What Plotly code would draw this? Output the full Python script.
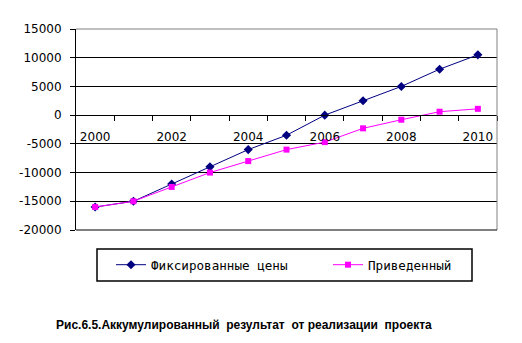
import plotly.graph_objects as go

years = [2000, 2001, 2002, 2003, 2004, 2005, 2006, 2007, 2008, 2009, 2010]
fixed_prices = [-16000, -15000, -12000, -9000, -6000, -3500, 0, 2500, 5000, 8000, 10500]
discounted = [-16000, -15000, -12500, -10000, -8000, -6000, -4700, -2300, -800, 600, 1100]
series_names = ["Фиксированные цены", "Приведенный"]
x_tick_labels = [2000, 2002, 2004, 2006, 2008, 2010]
y_ticks = [-20000, -15000, -10000, -5000, 0, 5000, 10000, 15000]
caption = "Рис.6.5.Аккумулированный  результат  от реализации  проекта"

W, H = 522, 343
L, R, T, B = 76, 25, 29, 113
pw, ph = W - L - R, H - T - B

def px_x(p):
    return (p - L) / pw

def px_y(p):
    return (H - B - p) / ph

legend_font = dict(family="DejaVu Sans Mono", size=12.6, color="#000000")

fig = go.Figure()
fig.add_trace(go.Scatter(
    x=years, y=fixed_prices, name=series_names[0], mode="lines+markers",
    line=dict(color="#000080", width=1),
    marker=dict(symbol="diamond", size=7, color="#000080"),
    legend="legend",
))
fig.add_trace(go.Scatter(
    x=years, y=discounted, name=series_names[1], mode="lines+markers",
    line=dict(color="#FF00FF", width=1),
    marker=dict(symbol="square", size=6, color="#FF00FF"),
    legend="legend2",
))

ymin, ymax = min(y_ticks), max(y_ticks)
zero_pos = (0 - ymin) / (ymax - ymin)

fig.update_layout(
    width=W, height=H,
    margin=dict(l=L, r=R, t=T, b=B, pad=0),
    paper_bgcolor="white", plot_bgcolor="white",
    showlegend=True,
    legend=dict(
        orientation="h", x=px_x(111), y=px_y(265), xanchor="left", yanchor="middle",
        font=legend_font, borderwidth=0, bgcolor="rgba(0,0,0,0)",
    ),
    legend2=dict(
        orientation="h", x=px_x(328), y=px_y(265), xanchor="left", yanchor="middle",
        font=legend_font, borderwidth=0, bgcolor="rgba(0,0,0,0)",
    ),
    xaxis=dict(
        range=[years[0] - 0.5, years[-1] + 0.5],
        anchor="free", position=zero_pos,
        showline=True, linecolor="#000000", linewidth=1,
        showgrid=False, zeroline=False,
        tickmode="array", tickvals=x_tick_labels, ticktext=[str(v) for v in x_tick_labels],
        ticks="", ticklabelstandoff=10,
        minor=dict(tickmode="array", tickvals=[y + 0.5 for y in years],
                   ticks="outside", ticklen=5, tickcolor="#000000", showgrid=False),
        tickfont=dict(family="DejaVu Sans", size=12, color="#000000"),
    ),
    yaxis=dict(
        range=[ymin, ymax],
        showline=True, linecolor="#000000", linewidth=1,
        showgrid=True, gridcolor="#000000", gridwidth=1,
        zeroline=False,
        tickmode="array", tickvals=y_ticks, ticktext=[str(v) for v in y_ticks],
        ticks="outside", ticklen=5, tickcolor="#000000",
        ticklabelstandoff=6,
        tickfont=dict(family="DejaVu Sans", size=12, color="#000000"),
    ),
    shapes=[
        dict(type="line", xref="paper", yref="paper", x0=0, x1=1, y0=1, y1=1,
             line=dict(color="#808080", width=1), layer="above"),
        dict(type="line", xref="paper", yref="paper", x0=1, x1=1, y0=0, y1=1,
             line=dict(color="#808080", width=1), layer="above"),
        dict(type="line", xref="paper", yref="paper", x0=0, x1=1, y0=0, y1=0,
             line=dict(color="#000000", width=1), layer="above"),
        dict(type="rect", xref="paper", yref="paper",
             x0=px_x(97), x1=px_x(472), y0=px_y(281), y1=px_y(249),
             line=dict(color="#000000", width=1.5), fillcolor="rgba(0,0,0,0)"),
    ],
    annotations=[
        dict(text=caption, xref="paper", yref="paper", x=px_x(244), y=px_y(325),
             xanchor="center", yanchor="middle", showarrow=False,
             font=dict(family="Liberation Sans", size=12, color="#000000", weight="bold")),
    ],
)

fig.write_html("out.html")
